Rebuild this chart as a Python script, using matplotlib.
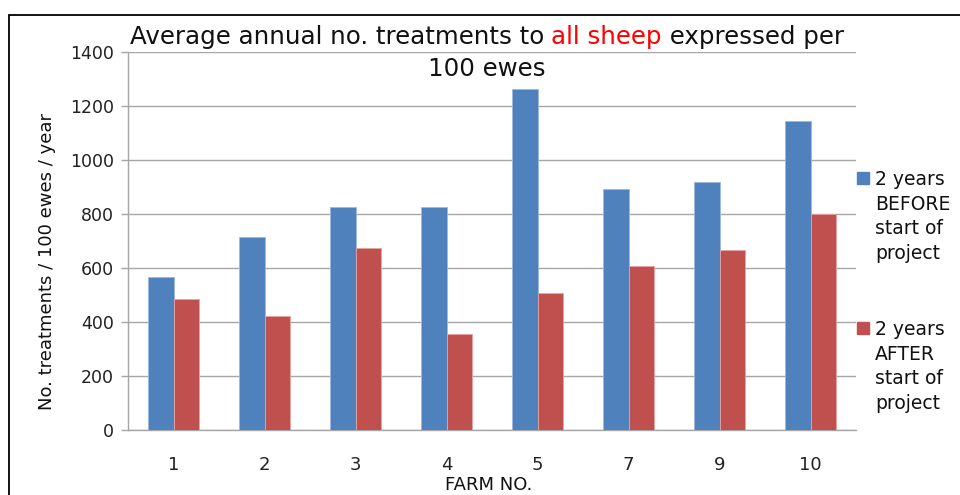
import matplotlib
matplotlib.use("Agg")
import matplotlib.pyplot as plt
from matplotlib.patches import Rectangle
import numpy as np

farms = ["1", "2", "3", "4", "5", "7", "9", "10"]
before = [568, 714, 825, 825, 1262, 893, 917, 1145]
after = [486, 421, 673, 357, 506, 607, 667, 800]
series_labels = [["2 years", "BEFORE", "start of", "project"],
                 ["2 years", "AFTER", "start of", "project"]]
yticks = [0, 200, 400, 600, 800, 1000, 1200, 1400]

BLUE = "#4F81BD"
RED = "#C0504D"
GRID = "#A6A6A6"
FONT = "DejaVu Sans"

W, H = 960, 495
fig = plt.figure(figsize=(W / 100, H / 100), dpi=100)
plt.rcParams['font.family'] = [FONT]

def fx(px):
    return px / W

def fy(py):
    return 1 - py / H

ax = fig.add_axes([fx(128), fy(430), fx(856) - fx(128), fy(52) - fy(430)])
x = np.arange(len(farms))
bw = 0.28
ax.bar(x - bw / 2, before, bw, color=BLUE, edgecolor="#9DB9E0", linewidth=0.6, zorder=3)
ax.bar(x + bw / 2, after, bw, color=RED, edgecolor="#E8A3A1", linewidth=0.6, zorder=3)
ax.set_xlim(-0.5, len(farms) - 0.5)
ax.set_ylim(0, 1400)
ax.set_yticks(yticks)
ax.set_yticklabels([str(v) for v in yticks], fontsize=12.5, color="#222222")
ax.set_xticks(x)
ax.set_xticklabels(farms, fontsize=13, color="#222222")
ax.tick_params(axis="x", length=0, pad=19)
ax.tick_params(axis="y", length=5, color=GRID, width=1, pad=5)
ax.yaxis.grid(True, color=GRID, linewidth=1, zorder=0)
for s in ["top", "right"]:
    ax.spines[s].set_visible(False)
for s in ["left", "bottom"]:
    ax.spines[s].set_color(GRID)
    ax.spines[s].set_linewidth(1)

fig.text(fx(47), fy(262), "No. treatments / 100 ewes / year", rotation=90,
         ha="center", va="center", fontsize=13, color="#111111")
fig.text(fx(489), fy(494), "FARM NO.", ha="center", va="bottom",
         fontsize=13, color="#111111")

# title with red segment
parts = [("Average annual no. treatments to ", "#111111"),
         ("all sheep", "#FF0000"),
         (" expressed per", "#111111")]
fig.canvas.draw()
r = fig.canvas.get_renderer()
fs = 17
tmp = [fig.text(0, 0, p, fontsize=fs) for p, c in parts]
widths = [t.get_window_extent(r).width for t in tmp]
for t in tmp:
    t.remove()
# fit to reference width (~713 px)
scale = 713 / sum(widths)
fs = fs * scale
widths = [w * scale for w in widths]
xpos = 487 - sum(widths) / 2
for (p, c), w in zip(parts, widths):
    fig.text(fx(xpos), fy(44), p, fontsize=fs, color=c, ha="left", va="baseline")
    xpos += w
fig.text(fx(487), fy(76), "100 ewes", fontsize=fs, color="#111111", ha="center", va="baseline")

# legend
for i, (lines, col) in enumerate(zip(series_labels, [BLUE, RED])):
    top = 172 + i * 150
    fig.add_artist(Rectangle((fx(857), fy(top + 12)), fx(12), 12 / H,
                             transform=fig.transFigure, color=col))
    for j, ln in enumerate(lines):
        fig.text(fx(875), fy(185 + i * 150 + j * 24.7), ln, fontsize=13.5,
                 color="#111111", ha="left", va="baseline")

# outer frame
fig.add_artist(Rectangle((fx(9), -0.1), 1.2, fy(15) + 0.1, transform=fig.transFigure,
                         fill=False, edgecolor="black", linewidth=1.3))

fig.savefig("out.png", dpi=100)
